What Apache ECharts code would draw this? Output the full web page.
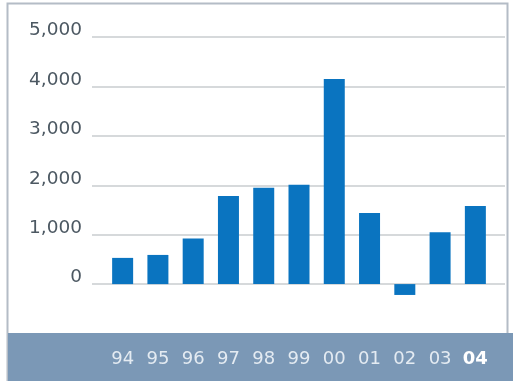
<!DOCTYPE html>
<html>
<head>
<meta charset="utf-8">
<script src="https://cdn.jsdelivr.net/npm/echarts@6/dist/echarts.min.js"></script>
<style>
  html, body { margin: 0; padding: 0; background: #ffffff; }
  #chart { width: 513px; height: 381px; }
</style>
</head>
<body>
<div id="chart"></div>
<script>
// Annual figures, fiscal years 1994-2004
const years = ['94', '95', '96', '97', '98', '99', '00', '01', '02', '03', '04'];
const values = [530, 590, 920, 1780, 1950, 2010, 4150, 1440, -220, 1050, 1580];
const yMin = -1000;
const yMax = 5000;
const yStep = 1000;

const chart = echarts.init(document.getElementById('chart'), null, { renderer: 'canvas' });

const gridTop = 37;
const gridBottom = 381 - 333.5;
const labelFont = '"DejaVu Sans", Verdana, sans-serif';

const option = {
  animation: false,
  backgroundColor: '#ffffff',
  graphic: [
    {
      type: 'rect',
      z: -10,
      shape: { x: 7.5, y: 3.5, width: 500, height: 390 },
      style: { fill: '#ffffff', stroke: '#b4bcc6', lineWidth: 2 }
    },
    {
      type: 'rect',
      z: -5,
      shape: { x: 8, y: 333, width: 510, height: 50 },
      style: { fill: '#7b98b6' }
    }
  ],
  grid: [
    // scale grid: tick labels and horizontal rules
    { left: 92, right: 8, top: gridTop, bottom: gridBottom },
    // bars
    { left: 105, right: 20, top: gridTop, bottom: gridBottom }
  ],
  xAxis: [
    { gridIndex: 0, type: 'value', show: false, min: 0, max: 1 },
    {
      gridIndex: 1,
      type: 'category',
      data: years,
      axisLine: { show: false },
      axisTick: { show: false },
      axisLabel: {
        interval: 0,
        margin: 17,
        fontFamily: labelFont,
        fontSize: 18,
        color: '#e4ebf2',
        formatter: function (v, i) {
          return i === years.length - 1 ? '{b|' + v + '}' : v;
        },
        rich: {
          b: { fontFamily: labelFont, fontSize: 18, fontWeight: 'bold', color: '#ffffff' }
        }
      }
    }
  ],
  yAxis: [
    {
      gridIndex: 0,
      type: 'value',
      min: yMin,
      max: yMax,
      interval: yStep,
      axisLine: { show: false },
      axisTick: { show: false },
      axisLabel: {
        margin: 10,
        fontFamily: labelFont,
        fontSize: 18.5,
        color: '#4c5862',
        verticalAlign: 'bottom',
        lineHeight: 13,
        formatter: function (v) {
          if (v < 0) return '';
          return v.toLocaleString('en-US');
        }
      },
      splitLine: {
        show: true,
        showMinLine: false,
        lineStyle: { color: '#c9cccf', width: 1.5 }
      }
    },
    {
      gridIndex: 1,
      type: 'value',
      min: yMin,
      max: yMax,
      interval: yStep,
      show: false,
      splitLine: { show: false }
    }
  ],
  series: [
    {
      type: 'bar',
      xAxisIndex: 1,
      yAxisIndex: 1,
      data: values,
      barWidth: 21,
      itemStyle: { color: '#0a74c0' }
    }
  ]
};

chart.setOption(option);
</script>
</body>
</html>
